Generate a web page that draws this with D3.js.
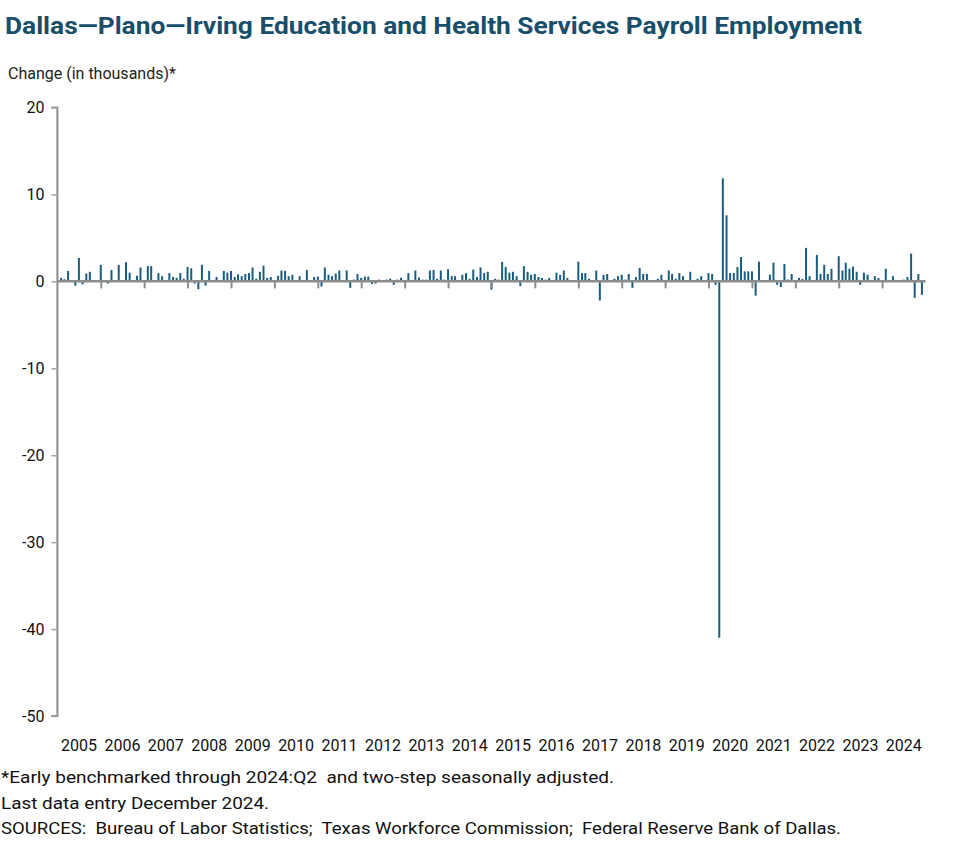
<!DOCTYPE html>
<html>
<head>
<meta charset="utf-8">
<script src="https://cdn.jsdelivr.net/npm/d3@7"></script>
<style>
  html, body { margin: 0; padding: 0; background: #fff; }
  svg { display: block; }
  text { font-family: Roboto, "Noto Sans", sans-serif; }
</style>
</head>
<body>
<svg id="chart" width="977" height="864"></svg>
<script>
// ---- Data (monthly change, thousands) ----
const years = [2005,2006,2007,2008,2009,2010,2011,2012,2013,2014,2015,2016,2017,2018,2019,2020,2021,2022,2023,2024];
const v2005 = [0, 0.4, 0.25, 1.2, 0.15, -0.5, 2.7, -0.35, 0.9, 1.1, 0, 0];
const v2006 = [1.9, 0, -0.25, 1.3, 0.15, 1.9, 0, 2.2, 1.0, 0, 0.65, 1.6];
const v2007 = [0, 1.75, 1.75, 0, 0.95, 0.6, 0, 0.95, 0.5, 0.4, 0.95, 0.3];
const v2008 = [1.65, 1.5, -0.25, -0.9, 1.9, -0.5, 1.2, 0.15, 0.5, 0, 1.2, 1.0];
const v2009 = [1.2, 0.5, 0.8, 0.6, 0.85, 0.95, 1.6, 0.3, 1.1, 1.8, 0.4, 0.5];
const v2010 = [0, 0.65, 1.25, 1.2, 0.6, 0.75, 0, 0.6, 0, 1.3, 0, 0.5];
const v2011 = [0.55, -0.6, 1.6, 0.75, 0.6, 0.9, 1.25, 0, 1.25, -0.75, 0.2, 0.85];
const v2012 = [0.4, 0.55, 0.55, -0.3, -0.25, 0.2, 0, 0.2, 0.3, -0.4, 0.2, 0.4];
const v2013 = [0, 0.95, 0, 1.25, 0.45, 0.2, 0.2, 1.25, 1.3, 0.3, 1.25, 0.2];
const v2014 = [1.4, 0.6, 0.6, 0, 0.75, 0.95, 0.3, 1.35, 0.5, 1.6, 0.95, 1.1];
const v2015 = [-0.95, 0.3, 0.2, 2.25, 1.65, 1.0, 1.1, 0.6, -0.55, 1.75, 1.1, 0.75];
const v2016 = [0.85, 0.5, 0.4, 0.2, 0.4, 0, 1.0, 0.75, 1.25, 0.4, 0, 0];
const v2017 = [2.27, 0.95, 0.95, 0.3, 0, 1.25, -2.2, 0.75, 0.85, 0, 0.3, 0.6];
const v2018 = [0.75, 0.2, 0.85, -0.75, 0.5, 1.55, 0.85, 0.85, 0, 0, 0.3, 0.75];
const v2019 = [0, 1.25, 0.85, 0.3, 0.95, 0.6, 0, 1.1, 0, 0.3, 0.6, 0];
const v2020 = [0.95, 0.85, -0.4, -41, 11.85, 7.6, 0.95, 0.95, 1.65, 2.8, 1.15, 1.15];
const v2021 = [1.15, -1.65, 2.27, 0, 0, 0.77, 2.15, -0.4, -0.65, 2.0, 0.2, 0.85];
const v2022 = [0, 0.4, 0.27, 3.85, 0.6, 0, 3.05, 0.85, 1.9, 0.85, 1.45, 0];
const v2023 = [2.9, 1.25, 2.15, 1.45, 1.7, 1.1, -0.4, 1.0, 0.77, 0, 0.6, 0.4];
const v2024 = [0, 1.45, 0, 0.6, 0, 0, 0.2, 0.5, 3.2, -1.9, 0.85, -1.55];
const yearValues = [v2005,v2006,v2007,v2008,v2009,v2010,v2011,v2012,v2013,v2014,v2015,v2016,v2017,v2018,v2019,v2020,v2021,v2022,v2023,v2024];
const yTicks = [20, 10, 0, -10, -20, -30, -40, -50];

const titleText = "Dallas\u2014Plano\u2014Irving Education and Health Services Payroll Employment";
const yAxisTitle = "Change (in thousands)*";
const notes = [
  "*Early benchmarked through 2024:Q2\u00a0 and two-step seasonally adjusted.",
  "Last data entry December 2024.",
  "SOURCES:\u00a0 Bureau of Labor Statistics;\u00a0 Texas Workforce Commission;\u00a0 Federal Reserve Bank of Dallas."
];

// ---- Build monthly records ----
const data = [];
years.forEach((yr, i) => {
  yearValues[i].forEach((v, m) => data.push({ date: new Date(yr, m, 1), value: v }));
});

const svg = d3.select("#chart");
const axisColor = "#8c8c8c";
const barColor = "#1a5d80";

const x = d3.scaleTime()
  .domain([new Date(2005, 0, 1), new Date(2025, 0, 1)])
  .range([57.4, 925.6]);
const y = d3.scaleLinear().domain([-50, 20]).range([716, 107.5]);

// Title
svg.append("text")
  .attr("x", 5).attr("y", 34)
  .attr("textLength", 857).attr("lengthAdjust", "spacingAndGlyphs")
  .style("font-size", "24px").style("font-weight", 700)
  .attr("fill", "#174f6b")
  .text(titleText);

svg.append("text")
  .attr("x", 8).attr("y", 79)
  .style("font-size", "16px").attr("fill", "#222")
  .text(yAxisTitle);

// Bars
svg.append("g").selectAll("rect").data(data).join("rect")
  .attr("x", d => x(d.date) - 1)
  .attr("width", 2)
  .attr("y", d => y(Math.max(0, d.value)))
  .attr("height", d => Math.abs(y(d.value) - y(0)))
  .attr("fill", barColor);

// Y axis
const yAxis = d3.axisLeft(y).tickValues(yTicks).tickSize(6).tickPadding(7).tickFormat(d => String(d));
const gy = svg.append("g").attr("transform", `translate(57.4,0)`).call(yAxis);
gy.select(".domain").attr("stroke", axisColor).attr("stroke-width", 2).attr("d", `M-6,${y(20)}H0V${y(-50)}H-6`);
gy.selectAll(".tick line").attr("stroke", "#a6a6a6").attr("stroke-width", 1.5);
gy.selectAll(".tick text").style("font-size", "16px").attr("fill", "#111").style("font-family", "Roboto, sans-serif");

// X axis at zero
const tickDates = years.slice(1).map(yr => new Date(yr, 0, 1));
const xAxis = d3.axisBottom(x).tickValues(tickDates).tickSize(7).tickFormat("");
const gx = svg.append("g").attr("transform", `translate(0,${y(0)})`).call(xAxis);
gx.select(".domain").attr("stroke", axisColor).attr("stroke-width", 2.5).attr("d", `M${x(new Date(2005,0,1))},0H${x(new Date(2025,0,1))}`);
gx.selectAll(".tick line").attr("stroke", axisColor).attr("stroke-width", 2);

// Year labels centered between ticks
svg.append("g").selectAll("text").data(years).join("text")
  .attr("x", yr => (x(new Date(yr, 0, 1)) + x(new Date(yr + 1, 0, 1))) / 2)
  .attr("y", 751)
  .attr("text-anchor", "middle")
  .style("font-size", "16px").attr("fill", "#111")
  .text(yr => yr);

// Notes
const noteLen = [613, 268, 840];
svg.append("g").selectAll("text").data(notes).join("text")
  .attr("x", 1)
  .attr("y", (d, i) => 783 + i * 25.5)
  .attr("textLength", (d, i) => noteLen[i]).attr("lengthAdjust", "spacingAndGlyphs")
  .style("font-size", "16px").attr("fill", "#111")
  .text(d => d);
</script>
</body>
</html>
